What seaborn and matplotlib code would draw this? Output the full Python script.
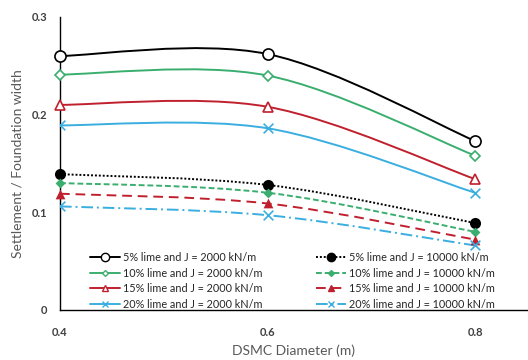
import matplotlib
matplotlib.use("Agg")
import matplotlib.pyplot as plt
from matplotlib.path import Path
from matplotlib.patches import PathPatch
from matplotlib.lines import Line2D
import seaborn as sns
import pandas as pd
import numpy as np

diameters = [0.4, 0.6, 0.8]
labels_2000 = ["5% lime and J = 2000 kN/m", "10% lime and J = 2000 kN/m",
               "15% lime and J = 2000 kN/m", "20% lime and J = 2000 kN/m"]
labels_10000 = ["5% lime and J = 10000 kN/m", "10% lime and J = 10000 kN/m",
                "15% lime and J = 10000 kN/m", "20% lime and J = 10000 kN/m"]
lime5_j2000 = [0.260, 0.262, 0.173]
lime10_j2000 = [0.241, 0.240, 0.158]
lime15_j2000 = [0.210, 0.208, 0.134]
lime20_j2000 = [0.189, 0.186, 0.120]
lime5_j10000 = [0.139, 0.128, 0.089]
lime10_j10000 = [0.130, 0.120, 0.080]
lime15_j10000 = [0.119, 0.109, 0.072]
lime20_j10000 = [0.106, 0.097, 0.066]
yticks = [0, 0.1, 0.2, 0.3]
ytick_labels = ["0", "0.1", "0.2", "0.3"]
xticks = [0.4, 0.6, 0.8]
xtick_labels = ["0.4", "0.6", "0.8"]

colors = ["#000000", "#3aae6e", "#c0202e", "#3aaee0"]
markers = ["o", "D", "^", "x"]
msizes = [8, 5, 7, 7]
styles_10000 = [(0, (1, 1)), (0, (3, 1.5)), (0, (5, 3)), (0, (6, 2, 1, 2))]

sns.set_theme(style="white")
plt.rcParams['font.family'] = ['Lato', 'DejaVu Sans']

fig = plt.figure(figsize=(5.28, 3.6), dpi=100)
ax = fig.add_axes([0.1136, 0.139, 0.8864, 0.814])


def smooth_path(xs, ys):
    pts = np.column_stack([xs, ys])
    n = len(pts)
    verts = [pts[0]]
    codes = [Path.MOVETO]
    for i in range(n - 1):
        p0 = pts[i - 1] if i > 0 else pts[i]
        p1 = pts[i]
        p2 = pts[i + 1]
        p3 = pts[i + 2] if i + 2 < n else pts[i + 1]
        c1 = p1 + (p2 - p0) / 6.0
        c2 = p2 - (p3 - p1) / 6.0
        verts += [c1, c2, p2]
        codes += [Path.CURVE4] * 3
    return Path(verts, codes)


series_2000 = [lime5_j2000, lime10_j2000, lime15_j2000, lime20_j2000]
series_10000 = [lime5_j10000, lime10_j10000, lime15_j10000, lime20_j10000]

rows = []
for lab, vals in zip(labels_2000 + labels_10000, series_2000 + series_10000):
    for d, v in zip(diameters, vals):
        rows.append({"d": d, "v": v, "s": lab})
df = pd.DataFrame(rows)

handles1, handles2 = [], []
for i in range(4):
    # J = 2000 (solid, hollow markers)
    ax.add_patch(PathPatch(smooth_path(diameters, series_2000[i]), fill=False,
                           edgecolor=colors[i], lw=1.4, zorder=2))
    sub = df[df.s == labels_2000[i]]
    if markers[i] == "x":
        sns.scatterplot(data=sub, x="d", y="v", marker="x", color=colors[i],
                        s=msizes[i] ** 2, linewidth=1.2, ax=ax, zorder=3, legend=False)
    else:
        ax.plot(sub.d, sub.v, linestyle="none", marker=markers[i], ms=msizes[i],
                mfc="white", mec=colors[i], mew=1.2, zorder=3, clip_on=False)
    handles1.append(Line2D([], [], color=colors[i], lw=1.4, marker=markers[i],
                           ms=msizes[i] - 2, mfc="white" if markers[i] != "x" else colors[i],
                           mec=colors[i], mew=1.0))
    # J = 10000 (patterned, filled markers)
    ax.add_patch(PathPatch(smooth_path(diameters, series_10000[i]), fill=False,
                           edgecolor=colors[i], lw=1.4, linestyle=styles_10000[i], zorder=2))
    sub = df[df.s == labels_10000[i]]
    if markers[i] == "x":
        sns.scatterplot(data=sub, x="d", y="v", marker="x", color=colors[i],
                        s=msizes[i] ** 2, linewidth=1.2, ax=ax, zorder=3, legend=False)
    else:
        sns.scatterplot(data=sub, x="d", y="v", marker=markers[i], color=colors[i],
                        s=msizes[i] ** 2, linewidth=0, ax=ax, zorder=3, legend=False,
                        clip_on=False)
    handles2.append(Line2D([], [], color=colors[i], lw=1.4, linestyle=styles_10000[i],
                           marker=markers[i], ms=msizes[i] - 2, mfc=colors[i],
                           mec=colors[i], mew=1.0))

ax.set_xlim(0.4, 0.851)
ax.set_ylim(0, 0.3)
ax.set_xticks(xticks)
ax.set_xticklabels(xtick_labels)
ax.set_yticks(yticks)
ax.set_yticklabels(ytick_labels)
ax.tick_params(axis="both", length=0, labelsize=8, labelcolor="#404040")
ax.tick_params(axis="x", pad=12)
ax.tick_params(axis="y", pad=9)
for lbl in ax.get_xticklabels() + ax.get_yticklabels():
    lbl.set_fontweight("bold")
for sp in ["top", "right"]:
    ax.spines[sp].set_visible(False)
for sp in ["left", "bottom"]:
    ax.spines[sp].set_color("black")
    ax.spines[sp].set_linewidth(1.0)
ax.set_xlabel("DSMC Diameter (m)", fontsize=10, color="#595959", labelpad=5)
ax.set_ylabel("Settlement / Foundation width", fontsize=10, color="#595959", labelpad=6)
ax.grid(False)

leg_kw = dict(loc="lower left", frameon=False, fontsize=7.8, handlelength=2.8,
              handletextpad=0.25, labelspacing=0.42, borderaxespad=0)
leg1 = ax.legend(handles=handles1, labels=labels_2000,
                 bbox_to_anchor=(0.055, -0.014), **leg_kw)
ax.add_artist(leg1)
ax.legend(handles=handles2, labels=labels_10000,
          bbox_to_anchor=(0.537, -0.014), **leg_kw)

fig.savefig("out.png", dpi=100)
